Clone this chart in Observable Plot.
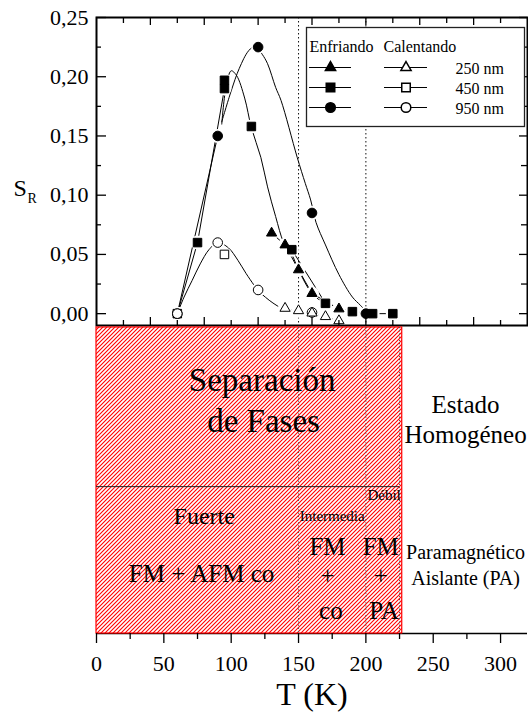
<!DOCTYPE html>
<html>
<head>
<meta charset="utf-8">
<script src="https://cdn.jsdelivr.net/npm/d3@7"></script>
<script src="https://cdn.jsdelivr.net/npm/@observablehq/plot@0.6"></script>
<style>
  body { margin: 0; background: #fff; }
  #chart { position: relative; width: 528px; height: 713px; overflow: hidden; }
  #chart svg { display: block; }
  #legend { position: absolute; left: 306px; top: 27px; }
</style>
</head>
<body>
<div id="chart"><div id="legend"></div></div>
<script>
// ---- Measured relative separation S_R versus temperature T (K) ----
// Cooling (Enfriando): filled symbols
const tCool250 = [130, 140, 150, 160, 180];
const sCool250 = [0.068, 0.058, 0.037, 0.017, 0.004];
const tCool450 = [60, 75, 95, 95, 115, 145, 170, 190, 205, 220];
const sCool450 = [0, 0.06, 0.19, 0.197, 0.158, 0.054, 0.0087, 0.0017, 0, 0];
const tCool950 = [60, 90, 120, 160, 200];
const sCool950 = [0, 0.15, 0.225, 0.085, 0];
// Heating (Calentando): open symbols
const tHeat250 = [140, 150, 160, 170, 180];
const sHeat250 = [0.0045, 0.0025, 0.0005, -0.0025, -0.006];
const tHeat450 = [95];
const sHeat450 = [0.05];
const tHeat950 = [60, 90, 120, 160];
const sHeat950 = [0, 0.06, 0.02, 0.001];

// Smooth guide curves through the cooling / heating runs
const tGuide950 = [93, 100, 106, 113, 118, 123, 127, 133, 137, 149, 155, 159, 163, 170, 180, 190, 196, 200];
const sGuide950 = [0.162, 0.188, 0.207, 0.222, 0.226, 0.219, 0.211, 0.191, 0.18, 0.132, 0.11, 0.096, 0.077, 0.058, 0.033, 0.014, 0.007, 0.002];
const tGuide450 = [93, 96, 100, 104, 110, 115, 122, 127, 133, 139, 145, 150, 160, 170];
const sGuide450 = [0.16, 0.19, 0.205, 0.201, 0.182, 0.157, 0.132, 0.107, 0.082, 0.06, 0.05, 0.037, 0.017, 0.008];
const tGuideHeat950 = [60, 65, 71, 77, 83.5, 90, 98, 105, 111, 117, 120, 125.5, 131, 137, 140];
const sGuideHeat950 = [0, 0.014, 0.028, 0.042, 0.054, 0.06, 0.0555, 0.045, 0.034, 0.024, 0.0194, 0.0138, 0.009, 0.005, 0.0045];

// Legend entries
const sampleSizes = ["250 nm", "450 nm", "950 nm"];
const sampleSymbols = ["triangle", "square", "circle"];

// Axis ticks
const sTicksMajor = [0, 0.05, 0.10, 0.15, 0.20, 0.25];
const sTicksMinor = [0.025, 0.075, 0.125, 0.175, 0.225];
const tTicksTopMajor = [40, 80, 120, 160, 200, 240, 280];
const tTicksTopMinor = [20, 60, 100, 140, 180, 220, 260, 300];
const tTicksMajor = [0, 50, 100, 150, 200, 250, 300];
const tTicksMinor = [25, 75, 125, 175, 225, 275];

// Phase diagram: boundaries (K) and extent of the phase-separated region
const phaseBounds = [150, 200, 225];
const separatedSpan = [0, 227];

// ---- helpers ----
const FONT = '"Liberation Serif", "Times New Roman", Times, serif';
const rows = (t, s) => t.map((T, i) => ({T, S: s[i]}));
const commaFmt = d => d3.format(".2f")(d).replace(".", ",");

const cool250 = rows(tCool250, sCool250);
const cool450 = rows(tCool450, sCool450);
const cool950 = rows(tCool950, sCool950);
const heat250 = rows(tHeat250, sHeat250);
const heat450 = rows(tHeat450, sHeat450);
const heat950 = rows(tHeat950, sHeat950);
const guide950 = rows(tGuide950, sGuide950);
const guide450 = rows(tGuide450, sGuide450);
const guideHeat950 = rows(tGuideHeat950, sGuideHeat950);
const allPoints = [cool250, cool450, cool950, heat250, heat450, heat950].flat();

const symbolR = {triangle: 3.8, square: 4.8, circle: 4.8};

const W = 528, mL = 96, mR = 1;
const topH = 326, mT = 17, mB = 1;
const FW = W - mL - mR, FH = topH - mT - mB;

const line = (data, curve = "linear") =>
  Plot.line(data, {x: "T", y: "S", curve, stroke: "black", strokeWidth: 1});
const dots = (data, symbol, filled) =>
  Plot.dot(data, {x: "T", y: "S", symbol, r: symbolR[symbol],
    fill: filled ? "black" : "white", stroke: "black", strokeWidth: 1});

// ---- upper panel: S_R(T) ----
const topPlot = Plot.plot({
  width: W, height: topH,
  marginLeft: mL, marginRight: mR, marginTop: mT, marginBottom: mB,
  x: {domain: [0, 320], axis: null},
  y: {domain: [-0.01, 0.25], axis: null},
  style: {fontFamily: FONT, color: "black", background: "white", overflow: "visible"},
  marks: [
    Plot.ruleX(phaseBounds.slice(0, 2), {stroke: "#111", strokeWidth: 1, strokeDasharray: "1.5,2.5"}),
    // connecting lines and guide curves
    line(cool450.slice(0, 3)),
    line(cool950.slice(0, 2)),
    line(cool450.slice(5)),
    line(cool250),
    line(heat250),
    line(guide950, "catmull-rom"),
    line(guide450, "catmull-rom"),
    line(guideHeat950, "catmull-rom"),
    // white gaps around the symbols
    Plot.dot(allPoints, {x: "T", y: "S", r: 7, fill: "white"}),
    // symbols
    dots(cool250, "triangle", true),
    dots(cool450, "square", true),
    dots(cool950, "circle", true),
    dots(heat950, "circle", false),
    dots(heat450, "square", false),
    dots(heat250, "triangle", false),
    // inward ticks on all four sides
    Plot.tickY(sTicksMajor, {y: d => d, insetRight: FW - 10, stroke: "black", strokeWidth: 1.3}),
    Plot.tickY(sTicksMinor, {y: d => d, insetRight: FW - 5, stroke: "black", strokeWidth: 1.3}),
    Plot.tickY(sTicksMajor, {y: d => d, insetLeft: FW - 8, stroke: "black", strokeWidth: 1.3}),
    Plot.tickY(sTicksMinor, {y: d => d, insetLeft: FW - 6, stroke: "black", strokeWidth: 1.3}),
    Plot.tickX(tTicksTopMajor, {x: d => d, insetBottom: FH - 8, stroke: "black", strokeWidth: 1.3}),
    Plot.tickX(tTicksTopMinor, {x: d => d, insetBottom: FH - 6, stroke: "black", strokeWidth: 1.3}),
    Plot.tickX(tTicksTopMajor, {x: d => d, insetTop: FH - 8, stroke: "black", strokeWidth: 1.3}),
    Plot.tickX(tTicksTopMinor, {x: d => d, insetTop: FH - 5, stroke: "black", strokeWidth: 1.3}),
    Plot.frame({stroke: "black", strokeWidth: 2}),
    Plot.axisY({anchor: "left", ticks: sTicksMajor, tickSize: 0, tickPadding: 8,
      tickFormat: commaFmt, fontSize: 22, label: null}),
    Plot.text(["S"], {text: d => d, frameAnchor: "left", dx: -83, dy: 24,
      textAnchor: "start", lineAnchor: "bottom", fontSize: 24}),
    Plot.text(["R"], {text: d => d, frameAnchor: "left", dx: -69, dy: 31,
      textAnchor: "start", lineAnchor: "bottom", fontSize: 14})
  ]
});

// ---- legend ----
const legendRows = sampleSizes.map((label, i) => ({label, symbol: sampleSymbols[i], y: 40 + 20 * i}));
const legendPlot = Plot.plot({
  width: 218, height: 99, margin: 0,
  x: {type: "identity", axis: null},
  y: {type: "identity", axis: null},
  style: {fontFamily: FONT, color: "black", background: "white", overflow: "visible"},
  marks: [
    Plot.frame({fill: "white", stroke: "#222", strokeWidth: 1.3}),
    Plot.text(["Enfriando", "Calentando"], {text: d => d, x: [3, 77], y: [24, 24],
      textAnchor: "start", lineAnchor: "bottom", fontSize: 16}),
    Plot.ruleY(legendRows, {y: "y", x1: 3, x2: 45, stroke: "black"}),
    Plot.ruleY(legendRows, {y: "y", x1: 78, x2: 121, stroke: "black"}),
    ...legendRows.flatMap(r => [
      Plot.dot([r], {x: () => 24, y: "y", symbol: r.symbol, r: symbolR[r.symbol], fill: "black", stroke: "black"}),
      Plot.dot([r], {x: () => 99.5, y: "y", symbol: r.symbol, r: symbolR[r.symbol], fill: "white", stroke: "black"})
    ]),
    Plot.text(legendRows, {text: "label", x: () => 149, y: r => r.y + 6,
      textAnchor: "start", lineAnchor: "bottom", fontSize: 16})
  ]
});

// ---- lower panel: phase diagram ----
const botH = 387, bT = 1, bB = 80;
const label = (text, T, v, fontSize) =>
  Plot.text([text], {text: d => d, x: () => T, y: () => v, fontSize,
    textAnchor: "middle", lineAnchor: "bottom"});

const bottomPlot = Plot.plot({
  width: W, height: botH,
  marginLeft: mL, marginRight: mR, marginTop: bT, marginBottom: bB,
  x: {domain: [0, 320]},
  y: {domain: [0, 1], axis: null},
  style: {fontFamily: FONT, color: "black", background: "white", overflow: "visible"},
  marks: [
    Plot.ruleY([0], {stroke: "black", strokeWidth: 1.5}),
    Plot.rect([separatedSpan], {x1: d => d[0], x2: d => d[1], y1: () => 0, y2: () => 1,
      fill: "url(#hatch)", stroke: "#f00", strokeWidth: 1.2}),
    Plot.ruleX(phaseBounds, {stroke: "#555", strokeWidth: 1, strokeDasharray: "1.2,2"}),
    Plot.ruleY([0.48], {x1: 0, x2: phaseBounds[2], stroke: "#222", strokeWidth: 1}),
    Plot.axisX({ticks: tTicksMajor, tickSize: 10, tickPadding: 12, tickFormat: d => d,
      fontSize: 22, label: null, strokeWidth: 1.3}),
    Plot.axisX({ticks: tTicksMinor, tickSize: 6, tickFormat: () => "", label: null, strokeWidth: 1.3}),
    label("Separación", 123, 0.792, 33),
    label("de Fases", 124, 0.660, 33),
    label("Estado", 274, 0.720, 25),
    label("Homogéneo", 274, 0.621, 25),
    label("Fuerte", 80, 0.359, 24),
    label("FM + AFM co", 78, 0.167, 25),
    label("Intermedia", 175, 0.369, 15),
    label("Débil", 213.5, 0.435, 15),
    label("FM", 171.5, 0.258, 25),
    label("+", 171.5, 0.163, 25),
    label("co", 174, 0.049, 25),
    label("FM", 211, 0.258, 25),
    label("+", 211, 0.163, 25),
    label("PA", 213.5, 0.049, 25),
    label("Paramagnético", 274, 0.242, 20),
    label("Aislante (PA)", 274, 0.160, 20),
    Plot.text(["T (K)"], {text: d => d, frameAnchor: "bottom", dy: 71,
      textAnchor: "middle", lineAnchor: "bottom", fontSize: 32})
  ]
});

// diagonal red hatching ("///") used by the phase-separated region
const defs = d3.select(bottomPlot).insert("defs", ":first-child");
const tile = 4;
const pat = defs.append("pattern").attr("id", "hatch")
  .attr("patternUnits", "userSpaceOnUse")
  .attr("width", tile).attr("height", tile);
pat.append("rect").attr("width", tile).attr("height", tile).attr("fill", "white");
pat.append("path")
  .attr("d", `M0,${tile} L${tile},0 M-1,1 L1,-1 M${tile - 1},${tile + 1} L${tile + 1},${tile - 1}`)
  .attr("stroke", "#ff0000").attr("stroke-width", 1.1).attr("fill", "none");

const chart = document.getElementById("chart");
chart.insertBefore(topPlot, chart.firstChild);
chart.insertBefore(bottomPlot, document.getElementById("legend"));
document.getElementById("legend").append(legendPlot);
</script>
</body>
</html>
